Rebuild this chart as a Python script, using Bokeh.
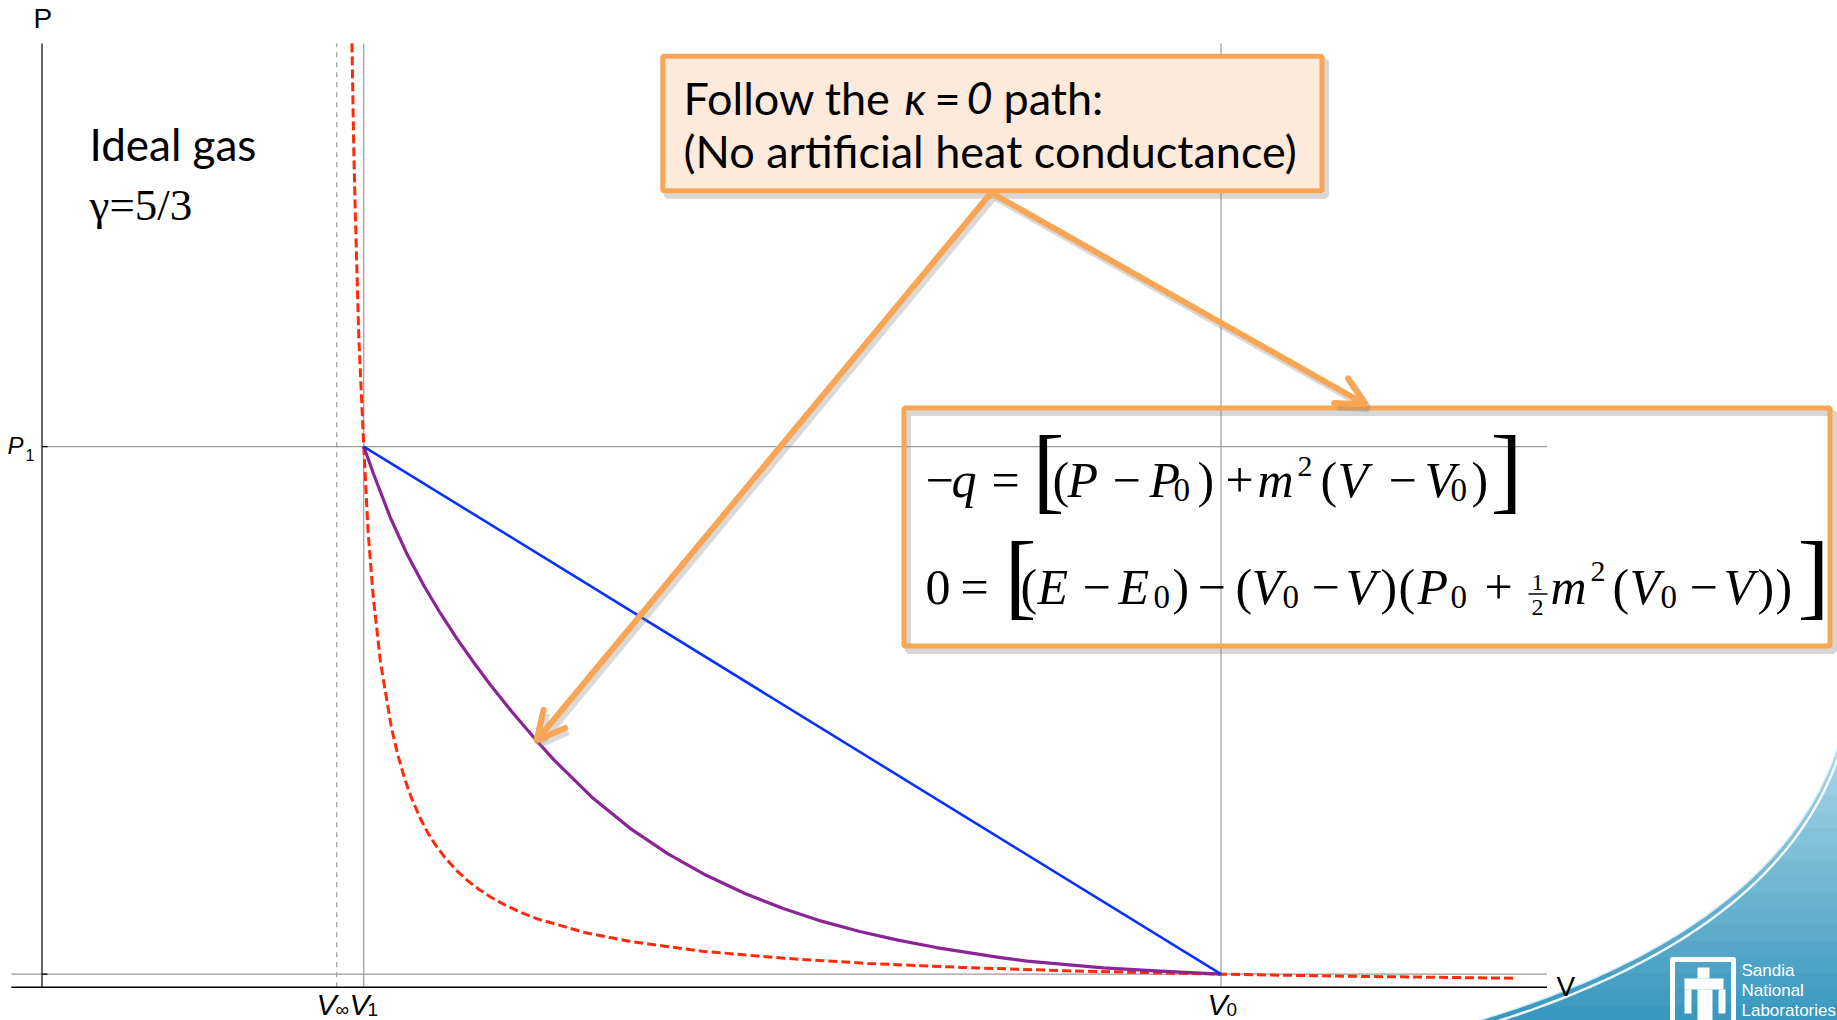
import numpy as np
from bokeh.plotting import figure
from bokeh.models import Range1d, Arrow, OpenHead
from bokeh.core.properties import value
from bokeh.embed import file_html
from bokeh.resources import INLINE

# ---- data: ideal gas (gamma = 5/3), V in units of V0, P in units of P0 ----
V_INF = 0.25      # limiting compression volume
V1 = 0.2729       # shocked state volume
P1 = 41.59        # shocked state pressure
V0 = 1.0          # initial volume
P0 = 1.0          # initial pressure

# Hugoniot (red dashed)
hug_v = [0.2629, 0.2644, 0.2656, 0.2687, 0.2729, 0.2766, 0.2810, 0.2871, 0.2963,
         0.3014, 0.3077, 0.3136, 0.3208, 0.3265, 0.3333, 0.3415, 0.3514, 0.3609,
         0.3710, 0.3811, 0.3931, 0.4050, 0.4200, 0.4600, 0.5000, 0.5600, 0.6300,
         0.7000, 0.7800, 0.8700, 1.0000, 1.1000, 1.2494]
hug_p = [72.6, 64.6, 60.0, 50.0, 41.59, 35.0, 30.0, 25.0, 20.0,
         18.0, 16.0, 14.5, 13.0, 12.0, 11.0, 10.0, 9.0, 8.2,
         7.5, 6.9, 6.3, 5.8, 5.26, 4.21, 3.50, 2.77, 2.22,
         1.83, 1.52, 1.26, 1.00, 0.853, 0.688]

# kappa = 0 path (purple)
path_v = [0.2729, 0.2814, 0.2956, 0.3098, 0.3238, 0.3380, 0.3522, 0.3662, 0.3804,
          0.3991, 0.4194, 0.4338, 0.4664, 0.4988, 0.5313, 0.5638, 0.5962, 0.6287,
          0.6611, 0.6936, 0.7260, 0.7585, 0.8130, 0.8355, 0.9003, 0.9487, 1.0000]
path_p = [41.59, 39.44, 36.09, 33.28, 30.90, 28.75, 26.78, 24.98, 23.25,
          21.13, 18.98, 17.52, 14.62, 12.22, 10.24, 8.59, 7.21, 6.05,
          5.08, 4.28, 3.62, 3.05, 2.28, 2.00, 1.48, 1.23, 1.00]

# Rayleigh line (blue)
ray_v = [V1, V0]
ray_p = [P1, P0]

# axis ticks
x_tick_vals = [V_INF, V1, V0]
x_tick_main = ["V", "V", "V"]
x_tick_subs = ["\u221e", "1", "0"]
y_tick_vals = [P0, P1]

V_LO, V_HI = -0.026, 1.2765   # extent of the horizontal axis
P_TOP = 72.6                  # top of the vertical lines

# ---- canvas ----
W, H = 1837, 1020
PX_PER_V = 1179.0
PX_PER_P = 13.0
ORIG_X, ORIG_Y = 41.5, 986.7


def vx(px):
    return (px - ORIG_X) / PX_PER_V


def pp(py):
    return (ORIG_Y - py) / PX_PER_P


p = figure(width=W, height=H,
           x_range=Range1d(vx(0), vx(W)), y_range=Range1d(pp(H), pp(0)),
           x_axis_type=None, y_axis_type=None,
           toolbar_location=None, output_backend="svg",
           min_border=0, outline_line_color=None,
           background_fill_color="white", border_fill_color="white")

# ---- corner swoosh with logo ----
t = np.linspace(0, 1, 80)
c0, c1, c2 = np.array([1478.0, 1020.0]), np.array([1776.0, 930.0]), np.array([1837.0, 747.0])
curve = ((1 - t) ** 2)[:, None] * c0 + (2 * t * (1 - t))[:, None] * c1 + (t ** 2)[:, None] * c2
sw_px, sw_py = curve[::-1, 0], curve[::-1, 1]      # increasing py
top_rgb = np.array([170, 215, 231])
bot_rgb = np.array([55, 151, 191])
edges = np.linspace(747, 1021, 18)
band_xs, band_ys, band_cols = [], [], []
for a, b in zip(edges[:-1], edges[1:]):
    ys = np.linspace(a, b + 1, 10)
    xs = np.interp(ys, sw_py, sw_px)
    poly_x = list(xs) + [W + 5, W + 5]
    poly_y = list(ys) + [b + 1, a]
    band_xs.append([vx(v) for v in poly_x])
    band_ys.append([pp(v) for v in poly_y])
    f = ((a + b) / 2 - 747) / (1021 - 747)
    c = (top_rgb + (bot_rgb - top_rgb) * f).astype(int)
    band_cols.append("#%02x%02x%02x" % tuple(c))
p.patches(band_xs, band_ys, fill_color=band_cols, line_color=None)
p.line([vx(v) for v in curve[:, 0]], [pp(v) for v in curve[:, 1]],
       line_color="#d8eef6", line_width=1.5)
p.line([vx(v) for v in curve[:, 0] + 2], [pp(v) for v in curve[:, 1] + 6],
       line_color="white", line_width=2.5, line_alpha=0.9)

# thunderbird badge
p.quad(left=[vx(1672)], right=[vx(1733)], top=[pp(959)], bottom=[pp(1025)],
       fill_color=None, line_color="white", line_width=5, line_join="round")
bird_l = [1697, 1684, 1697, 1684, 1718]
bird_r = [1709, 1723, 1712, 1691, 1725]
bird_t = [967, 978, 989, 989, 989]
bird_b = [978, 989, 1020, 1013, 1013]
p.quad(left=[vx(v) for v in bird_l], right=[vx(v) for v in bird_r],
       top=[pp(v) for v in bird_t], bottom=[pp(v) for v in bird_b],
       fill_color="white", line_color=None)

# ---- reference lines ----
GRID = "#9a9a9a"
p.segment(x0=[V_LO], y0=[P0], x1=[V_HI], y1=[P0], line_color=GRID, line_width=1.3)
p.segment(x0=[0], y0=[P1], x1=[V_HI], y1=[P1], line_color=GRID, line_width=1.3)
p.segment(x0=[V1, V0], y0=[0, 0], x1=[V1, V0], y1=[P_TOP, P_TOP], line_color=GRID, line_width=1.2)
p.segment(x0=[V_INF], y0=[0], x1=[V_INF], y1=[P_TOP], line_color=GRID, line_width=1.2, line_dash="5 5")

# axes
p.segment(x0=[V_LO], y0=[0], x1=[V_HI], y1=[0], line_color="black", line_width=1.5)
p.segment(x0=[0], y0=[0], x1=[0], y1=[P_TOP], line_color="black", line_width=1.2)
p.segment(x0=[0] * len(y_tick_vals), y0=y_tick_vals, x1=[vx(47)] * len(y_tick_vals), y1=y_tick_vals,
          line_color="black", line_width=1.2)

# ---- curves ----
p.line(hug_v, hug_p, line_color="#ff2a0a", line_width=3, line_dash="9 4")
p.line(path_v, path_p, line_color="#8b2596", line_width=3.2, line_join="round")
p.line(ray_v, ray_p, line_color="#0a32ff", line_width=2.6)

# ---- text helper (baseline given in canvas pixels) ----
BASE_SHIFT = {"Liberation Serif": 0.31, "Lato": 0.40, "Liberation Sans": 0.31}


def label(txt, px, py, size, font="Liberation Serif", style="normal",
          align="left", color="black"):
    y = py - BASE_SHIFT.get(font, 0.31) * size
    p.text(x=[vx(px)], y=[pp(y)], text=[txt], text_color=color,
           text_font=value(font), text_font_size=f"{size}px",
           text_font_style=style, text_align=align, text_baseline="alphabetic")


for txt, base in [("Sandia", 975), ("National", 995), ("Laboratories", 1015)]:
    label(txt, 1741, base, 17, font="Liberation Sans", color="white")

# axis labels
label("P", 33, 27, 28, font="Liberation Sans")
label("V", 1556, 995, 28, font="Liberation Sans")
label("P", 7, 452, 24, font="Liberation Sans", style="italic")
label("1", 25, 459, 16, font="Liberation Sans")
sub_x = [(316, 335), (349, 367), (1207, 1226)]
for (mx, sx), m, s in zip(sub_x, x_tick_main, x_tick_subs):
    label(m, mx, 1013, 30, font="Liberation Sans", style="italic")
    label(s, sx, 1015, 19, font="Liberation Sans")

# gas description
label("Ideal gas", 89, 161, 44, font="Lato")
label("\u03b3=5/3", 89, 218, 45)

# ---- arrows ----
ORANGE = "#f9a654"
arrow_pts = [((992, 193), (1365, 404)), ((990, 193), (536, 740))]
for (sx, sy), (ex, ey) in arrow_pts:
    p.add_layout(Arrow(x_start=vx(sx + 3), y_start=pp(sy + 4), x_end=vx(ex + 3), y_end=pp(ey + 4),
                       line_color="#808080", line_alpha=0.3, line_width=7,
                       end=OpenHead(size=28, line_width=7, line_color="#808080", line_alpha=0.3)))
for (sx, sy), (ex, ey) in arrow_pts:
    p.add_layout(Arrow(x_start=vx(sx), y_start=pp(sy), x_end=vx(ex), y_end=pp(ey),
                       line_color=ORANGE, line_width=6, line_cap="round",
                       end=OpenHead(size=28, line_width=6, line_color=ORANGE, line_cap="round")))

# ---- callout boxes ----
boxes = [(662.3, 1321.5, 55.8, 190.2, "#fdeada"), (903.5, 1829.5, 407.5, 645.5, None)]
for l, r, tp, b, fc in boxes:
    p.quad(left=[vx(l + 4)], right=[vx(r + 4)], top=[pp(tp + 5)], bottom=[pp(b + 5)],
           fill_color=None, line_color="#7a7a7a", line_alpha=0.3, line_width=6)
for l, r, tp, b, fc in boxes:
    p.quad(left=[vx(l)], right=[vx(r)], top=[pp(tp)], bottom=[pp(b)],
           fill_color=fc, line_color=ORANGE, line_width=5)

label("Follow the", 683, 115, 45, font="Lato")
label("\u03ba", 904, 115, 45, font="Lato", style="italic")
label("=", 934, 115, 45, font="Lato")
label("0", 966, 115, 45, font="Lato", style="italic")
label("path:", 1003, 115, 45, font="Lato")
label("(No artificial heat conductance)", 683, 168, 45, font="Lato")

# equations: (text, x, baseline, size, style)
B1, S1 = 495, 500
B2, S2 = 602, 607
eq_runs = [
    ("\u2212", 925, B1, 50, "normal"), ("q", 951, B1, 50, "italic"),
    ("=", 991, B1, 50, "normal"), ("[", 1032, B1 + 3, 96, "normal"),
    ("(", 1052, B1, 50, "normal"), ("P", 1067, B1, 50, "italic"),
    ("\u2212", 1112, B1, 50, "normal"), ("P", 1149, B1, 50, "italic"),
    ("0", 1173, S1, 33, "normal"), (")", 1197, B1, 50, "normal"),
    ("+", 1225, B1, 50, "normal"), ("m", 1257, B1, 50, "italic"),
    ("2", 1297, 475, 30, "normal"), ("(", 1320, B1, 50, "normal"),
    ("V", 1337, B1, 50, "italic"), ("\u2212", 1388, B1, 50, "normal"),
    ("V", 1424, B1, 50, "italic"), ("0", 1450, S1, 33, "normal"),
    (")", 1471, B1, 50, "normal"), ("]", 1490, B1 + 3, 96, "normal"),

    ("0", 925, B2, 50, "normal"), ("=", 960, B2, 50, "normal"),
    ("[", 1004, B2 + 2, 96, "normal"), ("(", 1020, B2, 50, "normal"),
    ("E", 1037, B2, 50, "italic"), ("\u2212", 1082, B2, 50, "normal"),
    ("E", 1118, B2, 50, "italic"), ("0", 1153, S2, 33, "normal"),
    (")", 1172, B2, 50, "normal"), ("\u2212", 1197, B2, 50, "normal"),
    ("(", 1235, B2, 50, "normal"), ("V", 1251, B2, 50, "italic"),
    ("0", 1282, S2, 33, "normal"), ("\u2212", 1311, B2, 50, "normal"),
    ("V", 1345, B2, 50, "italic"), (")", 1380, B2, 50, "normal"),
    ("(", 1398, B2, 50, "normal"), ("P", 1417, B2, 50, "italic"),
    ("0", 1450, S2, 33, "normal"), ("+", 1484, B2, 50, "normal"),
    ("m", 1550, B2, 50, "italic"), ("2", 1590, 580, 30, "normal"),
    ("(", 1612, B2, 50, "normal"), ("V", 1629, B2, 50, "italic"),
    ("0", 1660, S2, 33, "normal"), ("\u2212", 1689, B2, 50, "normal"),
    ("V", 1723, B2, 50, "italic"), (")", 1757, B2, 50, "normal"),
    (")", 1775, B2, 50, "normal"), ("]", 1797, B2 + 2, 96, "normal"),
]
for txt, x, base, size, style in eq_runs:
    label(txt, x, base, size, style=style)

# one-half
label("1", 1537, 589, 24, align="center")
label("2", 1537, 614, 24, align="center")
p.segment(x0=[vx(1528)], y0=[pp(593.5)], x1=[vx(1547)], y1=[pp(593.5)], line_color="black", line_width=1.5)

open("out.html", "w").write(file_html(p, INLINE, title="Ideal gas Hugoniot"))
